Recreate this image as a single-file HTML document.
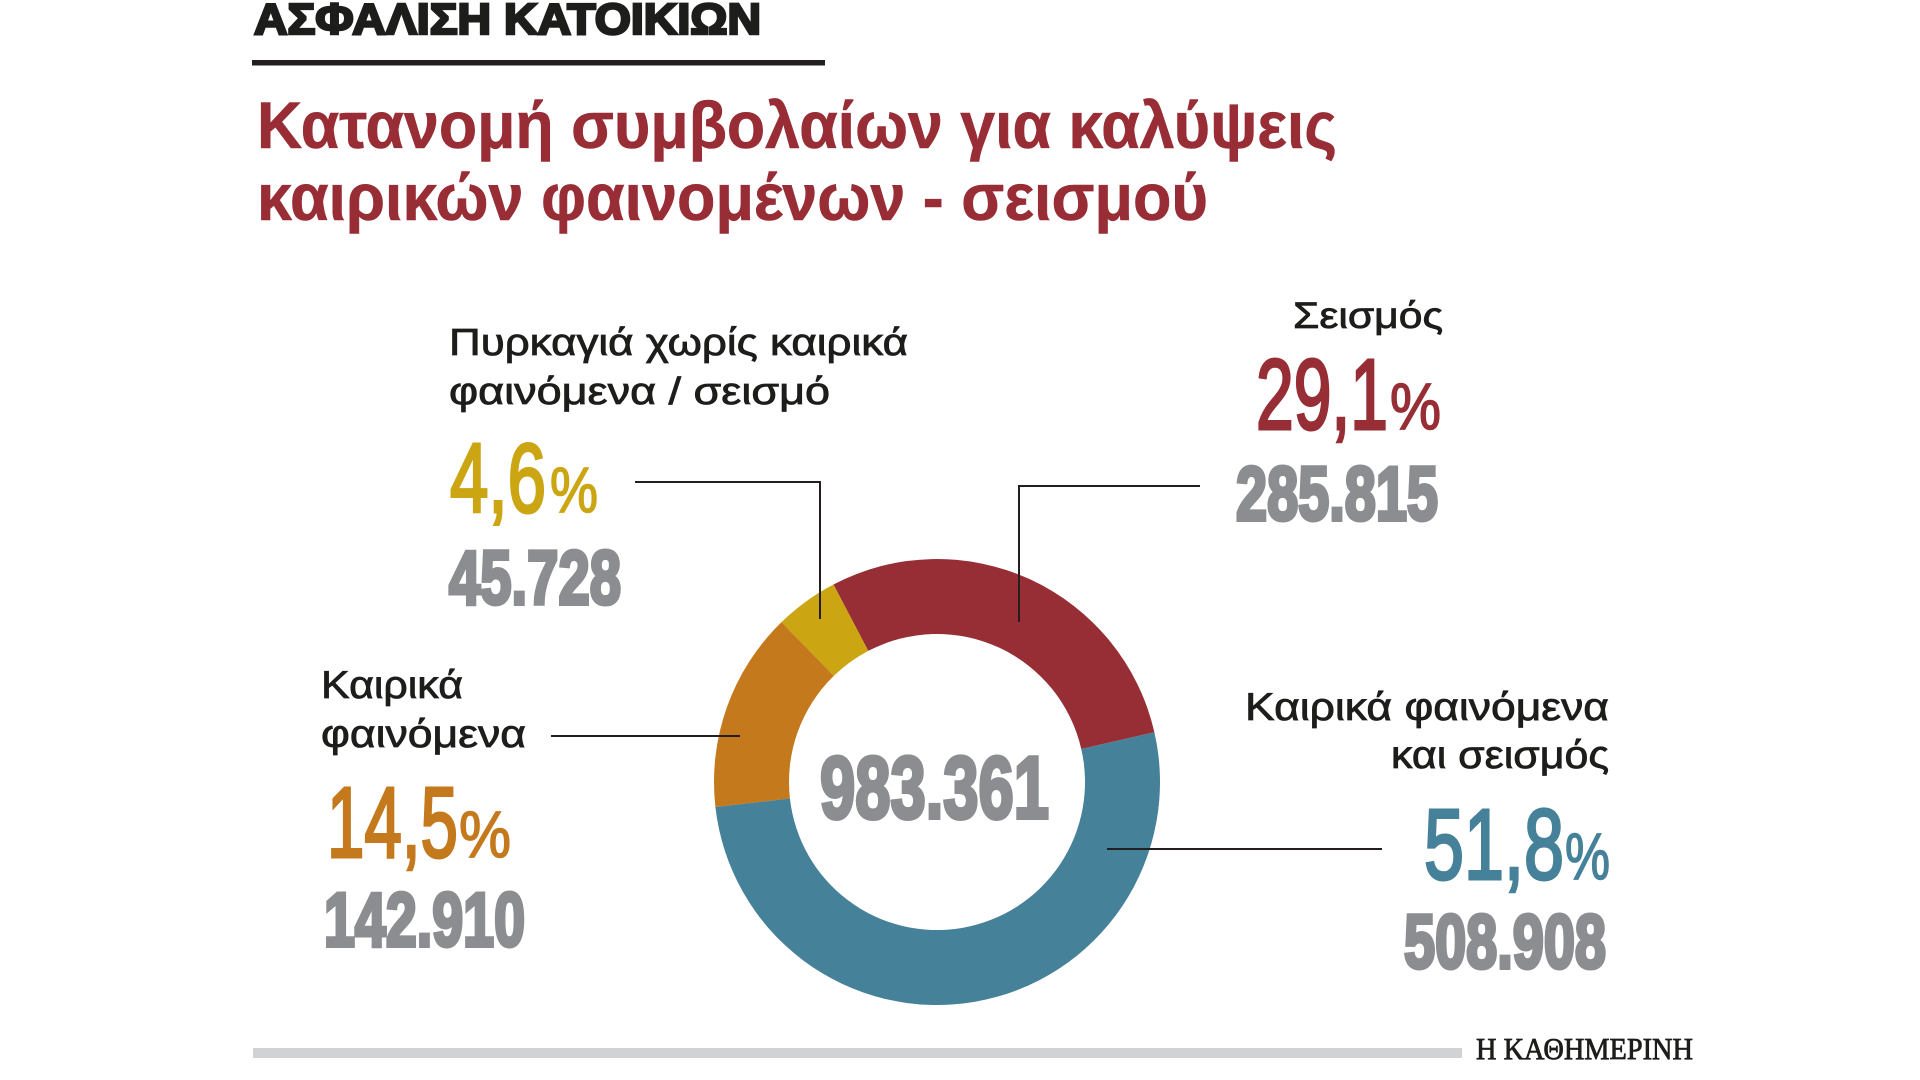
<!DOCTYPE html>
<html lang="el">
<head>
<meta charset="utf-8">
<title>Ασφάλιση κατοικιών</title>
<style>
  html,body{margin:0;padding:0;background:#ffffff;}
  body{width:1920px;height:1080px;overflow:hidden;}
  svg{display:block;}
  .hdr{font-family:"Liberation Sans","DejaVu Sans",sans-serif;font-weight:bold;}
  .ttl{font-family:"Liberation Sans","DejaVu Sans",sans-serif;font-weight:bold;}
  .lbl{font-family:"Liberation Sans","DejaVu Sans",sans-serif;font-weight:normal;}
  .num{font-family:"Liberation Sans","DejaVu Sans",sans-serif;font-weight:bold;}
  .pct{font-family:"Liberation Sans","DejaVu Sans",sans-serif;font-weight:normal;}
  .logo{font-family:"Liberation Serif","DejaVu Serif",serif;font-weight:normal;}
</style>
</head>
<body>
<svg width="1920" height="1080" viewBox="0 0 1920 1080" xmlns="http://www.w3.org/2000/svg">
  <rect x="0" y="0" width="1920" height="1080" fill="#ffffff"/>

  <!-- Header -->
  <text class="hdr" x="254" y="34" font-size="44" fill="#1d1d1b" stroke="#1d1d1b" stroke-width="2.6" textLength="507" lengthAdjust="spacingAndGlyphs">ΑΣΦΑΛΙΣΗ ΚΑΤΟΙΚΙΩΝ</text>
  <rect x="252" y="60" width="573" height="5.5" fill="#231f20"/>

  <!-- Title -->
  <text class="ttl" x="257" y="148" font-size="66" fill="#982d36" stroke="#982d36" stroke-width="0.6" textLength="1080" lengthAdjust="spacingAndGlyphs">Κατανομή συμβολαίων για καλύψεις</text>
  <text class="ttl" x="257" y="220" font-size="66" fill="#982d36" stroke="#982d36" stroke-width="0.6" textLength="951" lengthAdjust="spacingAndGlyphs">καιρικών φαινομένων - σεισμού</text>

  <!-- Donut -->
  <path d="M1154.37,732.22 A223,223 0 0 0 833.46,584.49 L868.28,650.92 A148,148 0 0 1 1081.26,748.96 Z" fill="#972e35"/>
  <path d="M833.46,584.49 A223,223 0 0 0 781.46,622.18 L833.77,675.93 A148,148 0 0 1 868.28,650.92 Z" fill="#cba512"/>
  <path d="M781.46,622.18 A223,223 0 0 0 715.40,806.94 L789.93,798.55 A148,148 0 0 1 833.77,675.93 Z" fill="#c4791d"/>
  <path d="M715.40,806.94 A223,223 0 1 0 1154.37,732.22 L1081.26,748.96 A148,148 0 1 1 789.93,798.55 Z" fill="#46819a"/>

  <!-- Center total -->
  <text class="num" x="820" y="818" font-size="88" fill="#8c8d91" stroke="#8c8d91" stroke-width="4" textLength="229" lengthAdjust="spacingAndGlyphs">983.361</text>

  <!-- Leader lines -->
  <g fill="none" stroke="#231f20" stroke-width="2">
    <path d="M635,482 H820 V619"/>
    <path d="M1200,486 H1019 V622"/>
    <path d="M551,736 H740"/>
    <path d="M1107,849 H1382"/>
  </g>

  <!-- Fire without weather / earthquake -->
  <text class="lbl" x="449" y="355" font-size="38" fill="#1d1d1b" stroke="#1d1d1b" stroke-width="0.8" textLength="459" lengthAdjust="spacingAndGlyphs">Πυρκαγιά χωρίς καιρικά</text>
  <text class="lbl" x="449" y="404" font-size="38" fill="#1d1d1b" stroke="#1d1d1b" stroke-width="0.8" textLength="381" lengthAdjust="spacingAndGlyphs">φαινόμενα / σεισμό</text>
  <text class="pct" x="450" y="512" font-size="98" fill="#cba512" stroke="#cba512" stroke-width="3" textLength="96" lengthAdjust="spacingAndGlyphs">4,6</text>
  <text class="pct" x="550" y="512" font-size="64" fill="#cba512" stroke="#cba512" stroke-width="1.5" textLength="48" lengthAdjust="spacingAndGlyphs">%</text>
  <text class="num" x="449" y="604" font-size="76" fill="#8c8d91" stroke="#8c8d91" stroke-width="4" textLength="172" lengthAdjust="spacingAndGlyphs">45.728</text>

  <!-- Earthquake -->
  <text class="lbl" x="1293" y="328" font-size="37" fill="#1d1d1b" stroke="#1d1d1b" stroke-width="0.8" textLength="150" lengthAdjust="spacingAndGlyphs">Σεισμός</text>
  <text class="pct" x="1256" y="429" font-size="100" fill="#972e35" stroke="#972e35" stroke-width="3" textLength="132" lengthAdjust="spacingAndGlyphs">29,1</text>
  <text class="pct" x="1390" y="429" font-size="66" fill="#972e35" stroke="#972e35" stroke-width="1.5" textLength="51" lengthAdjust="spacingAndGlyphs">%</text>
  <text class="num" x="1236" y="520" font-size="76" fill="#8c8d91" stroke="#8c8d91" stroke-width="4" textLength="202" lengthAdjust="spacingAndGlyphs">285.815</text>

  <!-- Weather -->
  <text class="lbl" x="321" y="698" font-size="39" fill="#1d1d1b" stroke="#1d1d1b" stroke-width="0.8" textLength="142" lengthAdjust="spacingAndGlyphs">Καιρικά</text>
  <text class="lbl" x="321" y="747" font-size="39" fill="#1d1d1b" stroke="#1d1d1b" stroke-width="0.8" textLength="205" lengthAdjust="spacingAndGlyphs">φαινόμενα</text>
  <text class="pct" x="327" y="857" font-size="100" fill="#c4791d" stroke="#c4791d" stroke-width="3" textLength="131" lengthAdjust="spacingAndGlyphs">14,5</text>
  <text class="pct" x="459" y="857" font-size="66" fill="#c4791d" stroke="#c4791d" stroke-width="1.5" textLength="52" lengthAdjust="spacingAndGlyphs">%</text>
  <text class="num" x="324" y="946" font-size="76" fill="#8c8d91" stroke="#8c8d91" stroke-width="4" textLength="201" lengthAdjust="spacingAndGlyphs">142.910</text>

  <!-- Weather and earthquake -->
  <text class="lbl" x="1245" y="720" font-size="39" fill="#1d1d1b" stroke="#1d1d1b" stroke-width="0.8" textLength="364" lengthAdjust="spacingAndGlyphs">Καιρικά φαινόμενα</text>
  <text class="lbl" x="1391" y="768" font-size="39" fill="#1d1d1b" stroke="#1d1d1b" stroke-width="0.8" textLength="218" lengthAdjust="spacingAndGlyphs">και σεισμός</text>
  <text class="pct" x="1424" y="879" font-size="100" fill="#46819a" stroke="#46819a" stroke-width="3" textLength="140" lengthAdjust="spacingAndGlyphs">51,8</text>
  <text class="pct" x="1565" y="879" font-size="66" fill="#46819a" stroke="#46819a" stroke-width="1.5" textLength="45" lengthAdjust="spacingAndGlyphs">%</text>
  <text class="num" x="1404" y="968" font-size="76" fill="#8c8d91" stroke="#8c8d91" stroke-width="4" textLength="202" lengthAdjust="spacingAndGlyphs">508.908</text>

  <!-- Footer -->
  <rect x="253" y="1048" width="1209" height="10" fill="#d1d2d4"/>
  <text class="logo" x="1476" y="1059" font-size="31" fill="#1d1d1b" stroke="#1d1d1b" stroke-width="0.8" textLength="217" lengthAdjust="spacingAndGlyphs">Η ΚΑΘΗΜΕΡΙΝΗ</text>
</svg>
</body>
</html>
